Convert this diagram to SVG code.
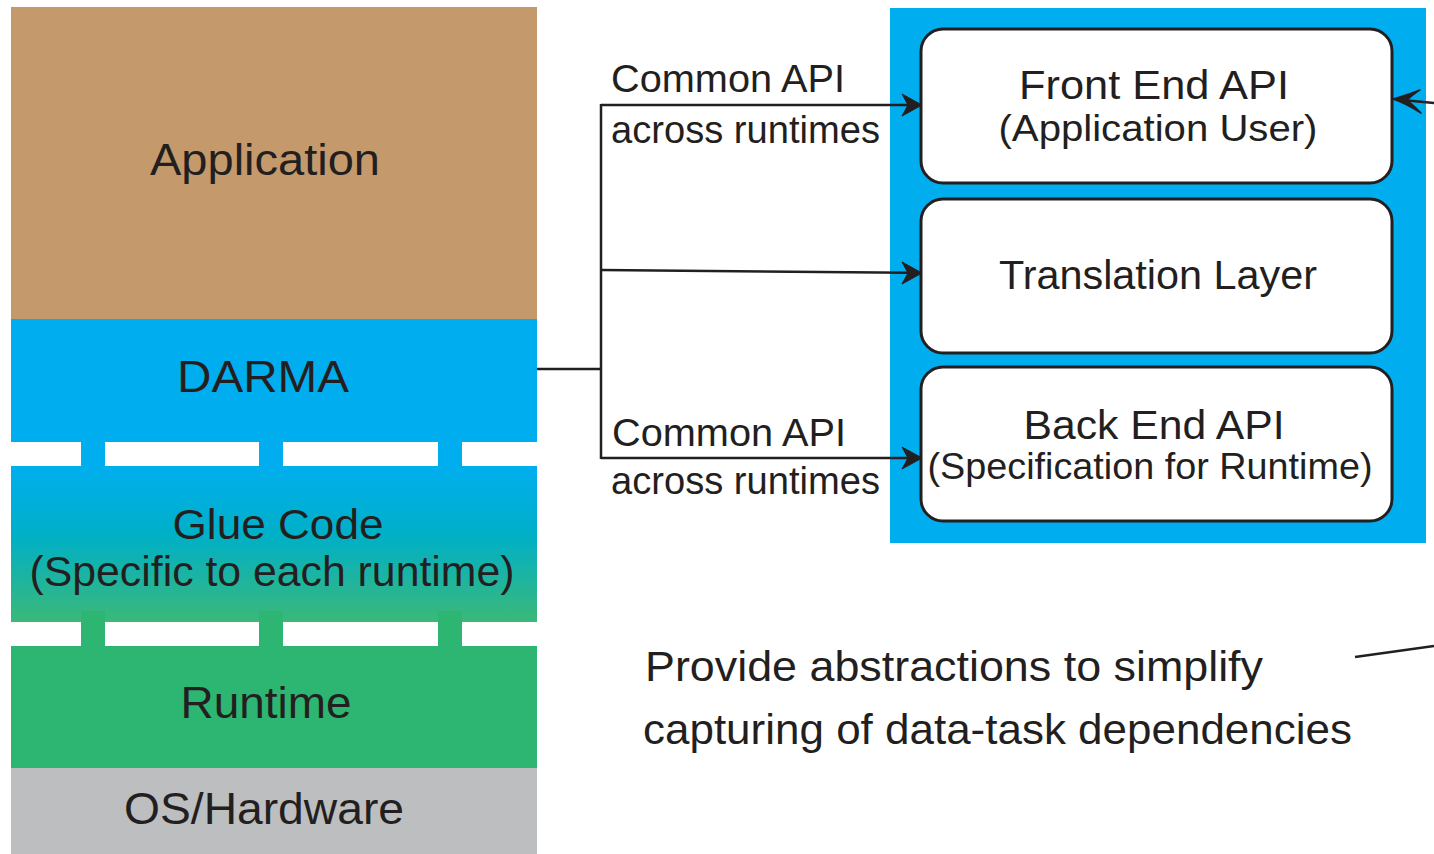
<svg xmlns="http://www.w3.org/2000/svg" width="1434" height="854" viewBox="0 0 1434 854">
<defs>
<linearGradient id="glue" x1="0" y1="0" x2="0" y2="1">
<stop offset="0" stop-color="#00aeef"/>
<stop offset="0.45" stop-color="#00b0c6"/>
<stop offset="1" stop-color="#3bb878"/>
</linearGradient>
</defs>
<style>
text{font-family:"Liberation Sans",Arial,sans-serif;fill:#231f20;text-anchor:middle}
.lay{font-size:45px}
.sub{font-size:42px}
.lbl{font-size:38px;text-anchor:start}
.box{fill:#fff;stroke:#231f20;stroke-width:3}
.con{fill:none;stroke:#231f20;stroke-width:2.5}
.head{fill:#231f20;stroke:#231f20;stroke-width:1;stroke-linejoin:miter}
.bt{font-size:41px}
.bs{font-size:37px}
</style>
<rect width="1434" height="854" fill="#fff"/>
<g id="application"><rect x="11" y="7" width="526" height="312" fill="#c49a6c"/><text class="lay" x="265" y="175" textLength="230" lengthAdjust="spacingAndGlyphs">Application</text></g>
<g id="darma"><rect x="11" y="319" width="526" height="123" fill="#00aeef"/>
<rect x="81" y="440" width="24" height="28" fill="#00aeef"/><rect x="259" y="440" width="24" height="28" fill="#00aeef"/><rect x="438" y="440" width="24" height="28" fill="#00aeef"/>
<text class="lay" x="263" y="392" textLength="172" lengthAdjust="spacingAndGlyphs">DARMA</text></g>
<g id="glue-code"><rect x="11" y="466" width="526" height="156" fill="url(#glue)"/>
<text class="sub" x="278" y="539" textLength="211" lengthAdjust="spacingAndGlyphs">Glue Code</text>
<text class="sub" x="272" y="586" textLength="485" lengthAdjust="spacingAndGlyphs">(Specific to each runtime)</text></g>
<g id="runtime"><rect x="81" y="611" width="24" height="37" fill="#2db572"/><rect x="259" y="611" width="24" height="37" fill="#2db572"/><rect x="438" y="611" width="24" height="37" fill="#2db572"/>
<rect x="11" y="646" width="526" height="122" fill="#2db572"/>
<text class="lay" x="266" y="718" textLength="171" lengthAdjust="spacingAndGlyphs">Runtime</text></g>
<g id="os-hardware"><rect x="11" y="768" width="526" height="86" fill="#bcbec0"/>
<text class="lay" x="264" y="824" textLength="280" lengthAdjust="spacingAndGlyphs">OS/Hardware</text></g>

<g id="darma-panel"><rect x="890" y="8" width="536" height="535" fill="#00aeef"/></g>
<g id="front-end"><rect class="box" x="921" y="29" width="471" height="154" rx="22"/>
<text class="bt" x="1154" y="99" textLength="270" lengthAdjust="spacingAndGlyphs">Front End API</text>
<text class="bs" x="1158" y="141" textLength="319" lengthAdjust="spacingAndGlyphs">(Application User)</text></g>
<g id="translation"><rect class="box" x="921" y="199" width="471" height="154" rx="22"/>
<text class="bt" x="1158" y="289" textLength="318" lengthAdjust="spacingAndGlyphs">Translation Layer</text></g>
<g id="back-end"><rect class="box" x="921" y="367" width="471" height="154" rx="22"/>
<text class="bt" x="1154" y="439" textLength="261" lengthAdjust="spacingAndGlyphs">Back End API</text>
<text class="bs" x="1150" y="479" textLength="445" lengthAdjust="spacingAndGlyphs">(Specification for Runtime)</text></g>

<g id="connectors">
<path class="con" d="M537,369 H601"/>
<path class="con" d="M601,104 V459"/>
<path class="con" d="M601,105 H908"/>
<path class="head" d="M922,105 L902,94 L908,105 L902,116 Z"/>
<path class="con" d="M601,270 L908,272.7"/>
<path class="head" d="M922,273 L902,262 L908,273 L902,284 Z"/>
<path class="con" d="M601,458 H908"/>
<path class="head" d="M922,458 L902,447 L908,458 L902,469 Z"/>
<path class="con" d="M1434,103 L1397,99.5"/>
<path d="M1420,90 Q1404,96 1393,99 Q1405,103 1421,113 Q1411,103 1407,100.5 Q1411,96 1420,90 Z" fill="#231f20" stroke="#231f20" stroke-width="1.5" stroke-linejoin="round"/>
<path class="con" d="M1355,657 L1434,646"/>
</g>
<g id="labels">
<text class="lbl" x="611" y="92" textLength="234" lengthAdjust="spacingAndGlyphs">Common API</text>
<text class="lbl" x="611" y="143" textLength="269" lengthAdjust="spacingAndGlyphs">across runtimes</text>
<text class="lbl" x="612" y="446" textLength="234" lengthAdjust="spacingAndGlyphs">Common API</text>
<text class="lbl" x="611" y="494" textLength="269" lengthAdjust="spacingAndGlyphs">across runtimes</text>
</g>
<g id="note">
<text class="lbl" x="645" y="681" style="font-size:42px" textLength="618" lengthAdjust="spacingAndGlyphs">Provide abstractions to simplify</text>
<text class="lbl" x="643" y="744" style="font-size:42px" textLength="709" lengthAdjust="spacingAndGlyphs">capturing of data-task dependencies</text>
</g>
</svg>
